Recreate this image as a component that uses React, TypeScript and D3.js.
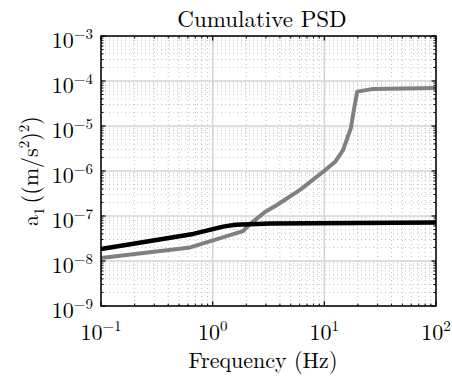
import * as d3 from 'd3';

// values (log-log)
const grayFreq = [0.1, 0.63, 1.87, 2.16, 2.94, 3.76, 6.05, 9.7, 12.5, 14.7, 17.3, 18.4, 19.7, 26.7, 100];
const grayVal = [1.17e-8, 2.0e-8, 4.6e-8, 6.6e-8, 1.23e-7, 1.76e-7, 3.8e-7, 9.5e-7, 1.6e-6, 2.9e-6, 9.1e-6, 2.3e-5, 5.8e-5, 6.6e-5, 7.0e-5];
const blackFreq = [0.1, 0.67, 1.24, 1.6, 3.3, 100];
const blackVal = [1.85e-8, 4.0e-8, 5.8e-8, 6.4e-8, 6.8e-8, 7.2e-8];

const xTickExp = [-1, 0, 1, 2];
const yTickExp = [-9, -8, -7, -6, -5, -4, -3];

const FONT = "'Latin Modern Roman', 'CMU Serif', 'Liberation Serif', serif";
const W = 452;
const H = 376;
const m = { left: 101, right: 436, top: 36, bottom: 306 };

export default function App() {
  const x = d3.scaleLog().domain([0.1, 100]).range([m.left, m.right]);
  const y = d3.scaleLog().domain([1e-9, 1e-3]).range([m.bottom, m.top]);

  const minorX: number[] = [];
  for (let e = -1; e < 2; e++) for (let k = 2; k <= 9; k++) minorX.push(k * Math.pow(10, e));
  const minorY: number[] = [];
  for (let e = -9; e < -3; e++) for (let k = 2; k <= 9; k++) minorY.push(k * Math.pow(10, e));

  const line = d3
    .line<[number, number]>()
    .x((d) => x(d[0]))
    .y((d) => y(d[1]));

  const gray = line(grayFreq.map((f, i) => [f, grayVal[i]]));
  const black = line(blackFreq.map((f, i) => [f, blackVal[i]]));

  const gridC = '#d4d4d4';
  const minorC = '#c4c4c4';

  return (
    <svg width={W} height={H} style={{ position: 'absolute', left: 0, top: 0, background: '#fff' }} fontFamily={FONT}>
      <rect x={0} y={0} width={W} height={H} fill="#fff" />
      {/* minor grid */}
      {minorX.map((v) => (
        <line key={'mx' + v} x1={x(v)} x2={x(v)} y1={m.top} y2={m.bottom} stroke={minorC} strokeWidth={1} strokeDasharray="1 3" />
      ))}
      {minorY.map((v) => (
        <line key={'my' + v} y1={y(v)} y2={y(v)} x1={m.left} x2={m.right} stroke={minorC} strokeWidth={1} strokeDasharray="1 3" />
      ))}
      {/* major grid */}
      {xTickExp.map((e) => (
        <line key={'gx' + e} x1={x(Math.pow(10, e))} x2={x(Math.pow(10, e))} y1={m.top} y2={m.bottom} stroke={gridC} strokeWidth={1.5} />
      ))}
      {yTickExp.map((e) => (
        <line key={'gy' + e} y1={y(Math.pow(10, e))} y2={y(Math.pow(10, e))} x1={m.left} x2={m.right} stroke={gridC} strokeWidth={1.5} />
      ))}

      {/* data */}
      <path d={gray ?? ''} fill="none" stroke="#808080" strokeWidth={4} strokeLinejoin="round" />
      <path d={black ?? ''} fill="none" stroke="#000" strokeWidth={4.5} strokeLinejoin="round" />

      {/* ticks, inward on all four sides */}
      {minorX.map((v) => (
        <g key={'tmx' + v}>
          <line x1={x(v)} x2={x(v)} y1={m.bottom} y2={m.bottom - 2.5} stroke="#000" />
          <line x1={x(v)} x2={x(v)} y1={m.top} y2={m.top + 2.5} stroke="#000" />
        </g>
      ))}
      {minorY.map((v) => (
        <g key={'tmy' + v}>
          <line y1={y(v)} y2={y(v)} x1={m.left} x2={m.left + 2.5} stroke="#000" />
          <line y1={y(v)} y2={y(v)} x1={m.right} x2={m.right - 2.5} stroke="#000" />
        </g>
      ))}
      {xTickExp.map((e) => (
        <g key={'tx' + e}>
          <line x1={x(Math.pow(10, e))} x2={x(Math.pow(10, e))} y1={m.bottom} y2={m.bottom - 4.5} stroke="#000" strokeWidth={1.2} />
          <line x1={x(Math.pow(10, e))} x2={x(Math.pow(10, e))} y1={m.top} y2={m.top + 4.5} stroke="#000" strokeWidth={1.2} />
        </g>
      ))}
      {yTickExp.map((e) => (
        <g key={'ty' + e}>
          <line y1={y(Math.pow(10, e))} y2={y(Math.pow(10, e))} x1={m.left} x2={m.left + 4.5} stroke="#000" strokeWidth={1.2} />
          <line y1={y(Math.pow(10, e))} y2={y(Math.pow(10, e))} x1={m.right} x2={m.right - 4.5} stroke="#000" strokeWidth={1.2} />
        </g>
      ))}
      <rect x={m.left} y={m.top} width={m.right - m.left} height={m.bottom - m.top} fill="none" stroke="#000" strokeWidth={1.5} />

      {/* tick labels */}
      {yTickExp.map((e) => (
        <text key={'ly' + e} x={m.left - 8} y={y(Math.pow(10, e)) + 12} textAnchor="end" fontSize={22} fill="#000">
          <tspan>10</tspan>
          <tspan dy={-9} fontSize={15}>{e < 0 ? '\u2212' + Math.abs(e) : String(e)}</tspan>
        </text>
      ))}
      {xTickExp.map((e) => (
        <text key={'lx' + e} x={x(Math.pow(10, e))} y={340} textAnchor="middle" fontSize={22} fill="#000">
          <tspan>10</tspan>
          <tspan dy={-9} fontSize={15}>{e < 0 ? '\u2212' + Math.abs(e) : String(e)}</tspan>
        </text>
      ))}

      {/* labels */}
      <text x={262} y={27} textAnchor="middle" fontSize={23} fill="#000">Cumulative PSD</text>
      <text x={263} y={368} textAnchor="middle" fontSize={22} fill="#000">Frequency (Hz)</text>
      <text transform={`translate(37.5, ${(m.top + m.bottom) / 2}) rotate(-90)`} textAnchor="middle" fontSize={22} fill="#000">
        <tspan>a</tspan>
        <tspan dy={6} fontSize={15}>1</tspan>
        <tspan dy={-6} dx={4}>((m/s</tspan>
        <tspan dy={-9} fontSize={15}>2</tspan>
        <tspan dy={9}>)</tspan>
        <tspan dy={-9} fontSize={15}>2</tspan>
        <tspan dy={9}>)</tspan>
      </text>
    </svg>
  );
}
